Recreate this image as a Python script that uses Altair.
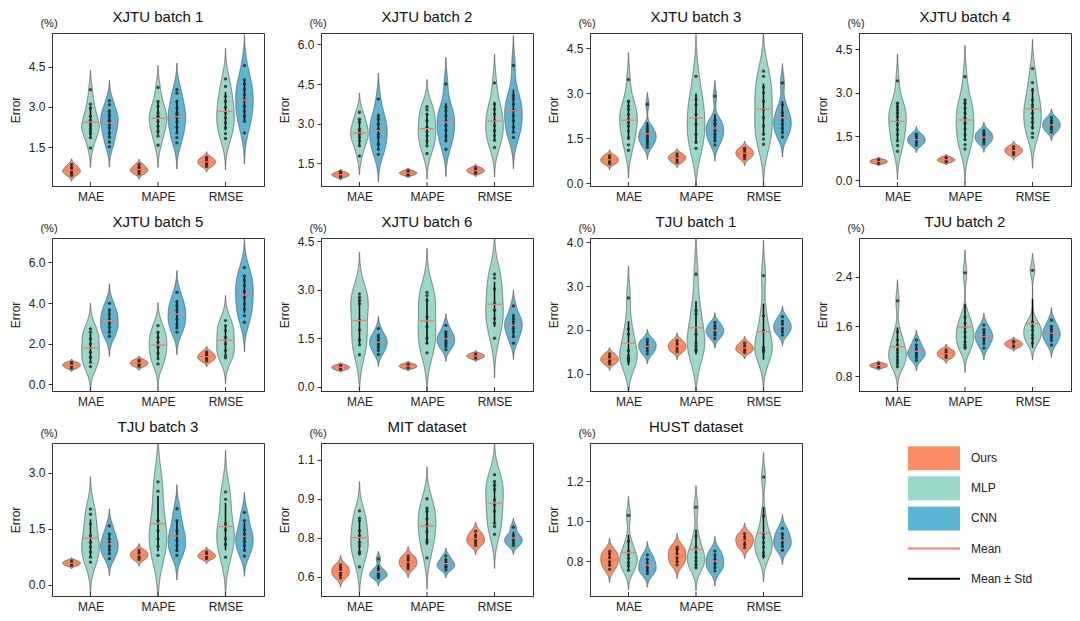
import json
import altair as alt
import pandas as pd

FONT = "Liberation Sans"
METRICS = ["MAE", "MAPE", "RMSE"]
MODELS = ["Ours", "MLP", "CNN"]
COLORS = ["#FC8D62", "#9AD9C9", "#5AB6D2"]
MEAN_COLOR = "#F47C6C"
STD_COLOR = "#000000"

PANEL_TITLES = ["XJTU batch 1", "XJTU batch 2", "XJTU batch 3", "XJTU batch 4",
                "XJTU batch 5", "XJTU batch 6", "TJU batch 1", "TJU batch 2",
                "TJU batch 3", "MIT dataset", "HUST dataset"]

XJTU1 = {
    "MAE": {"Ours": [0.45, 0.52, 0.58, 0.62, 0.68, 0.75, 0.85],
            "MLP": [1.47, 1.85, 2.0, 2.1, 2.2, 2.3, 2.4, 2.5, 2.65, 2.95, 3.1, 3.64],
            "CNN": [1.51, 1.69, 1.87, 2.03, 2.22, 2.34, 2.46, 2.5, 2.65, 2.7, 2.83, 3.08, 3.23]},
    "MAPE": {"Ours": [0.5, 0.58, 0.63, 0.68, 0.75, 0.85],
             "MLP": [1.57, 1.91, 2.09, 2.28, 2.46, 2.59, 2.65, 2.77, 3.02, 3.2, 3.72],
             "CNN": [1.66, 1.85, 2.03, 2.24, 2.44, 2.59, 2.7, 2.77, 2.96, 3.2, 3.51, 3.64]},
    "RMSE": {"Ours": [0.78, 0.84, 0.9, 0.95, 1.0, 1.06, 1.12],
             "MLP": [1.82, 2.0, 2.22, 2.4, 2.59, 2.77, 2.98, 3.2, 3.39, 3.76, 4.04],
             "CNN": [2.03, 2.46, 2.65, 2.83, 3.02, 3.27, 3.45, 3.64, 3.85, 4.01, 4.54]},
}
XJTU2 = {
    "MAE": {"Ours": [0.98, 1.02, 1.06, 1.08, 1.12, 1.17],
            "MLP": [1.78, 2.16, 2.35, 2.48, 2.6, 2.7, 2.79, 3.05, 3.17, 3.43],
            "CNN": [1.84, 2.03, 2.22, 2.48, 2.6, 2.79, 2.98, 3.17, 3.3, 3.93]},
    "MAPE": {"Ours": [1.05, 1.1, 1.13, 1.17, 1.22],
             "MLP": [1.87, 2.16, 2.35, 2.54, 2.69, 2.86, 3.11, 3.36, 3.52, 3.64],
             "CNN": [2.03, 2.35, 2.54, 2.75, 2.92, 3.11, 3.3, 3.49, 3.62, 4.5]},
    "RMSE": {"Ours": [1.12, 1.18, 1.22, 1.27, 1.33],
             "MLP": [2.1, 2.37, 2.54, 2.73, 2.92, 3.11, 3.36, 3.55, 3.74, 4.54],
             "CNN": [2.48, 2.67, 2.86, 3.11, 3.3, 3.49, 3.74, 3.93, 4.06, 5.2]},
}
XJTU3 = {
    "MAE": {"Ours": [0.65, 0.72, 0.78, 0.85, 0.92],
            "MLP": [1.1, 1.28, 1.52, 1.74, 1.91, 2.02, 2.13, 2.29, 2.46, 2.57, 2.73, 3.45],
            "CNN": [1.2, 1.3, 1.38, 1.45, 1.52, 1.58, 1.65, 1.72, 1.8, 1.9, 2.63]},
    "MAPE": {"Ours": [0.7, 0.78, 0.85, 0.9, 0.98],
             "MLP": [1.16, 1.36, 1.63, 1.96, 2.29, 2.62, 2.79, 3.56],
             "CNN": [1.28, 1.41, 1.52, 1.63, 1.74, 1.83, 1.96, 2.0, 2.1, 2.9]},
    "RMSE": {"Ours": [0.82, 0.9, 0.97, 1.03, 1.1, 1.17],
             "MLP": [1.3, 1.47, 1.63, 1.91, 2.18, 2.46, 2.73, 3.01, 3.2, 3.56, 3.73],
             "CNN": [1.54, 1.69, 1.83, 1.96, 2.09, 2.24, 2.35, 2.62, 3.34]},
}
XJTU4 = {
    "MAE": {"Ours": [0.58, 0.62, 0.66, 0.7],
            "MLP": [0.99, 1.19, 1.35, 1.56, 1.73, 1.9, 2.03, 2.18, 2.3, 2.41, 2.52, 2.64, 3.41],
            "CNN": [1.2, 1.28, 1.35, 1.42, 1.5, 1.58]},
    "MAPE": {"Ours": [0.63, 0.68, 0.72, 0.78],
             "MLP": [1.07, 1.22, 1.39, 1.56, 1.76, 1.95, 2.13, 2.3, 2.47, 2.64, 2.75, 3.55],
             "CNN": [1.25, 1.33, 1.4, 1.48, 1.55, 1.62, 1.7]},
    "RMSE": {"Ours": [0.88, 0.95, 1.02, 1.08, 1.15],
             "MLP": [1.47, 1.61, 1.81, 1.99, 2.13, 2.3, 2.47, 2.58, 2.75, 3.09, 3.35, 3.83],
             "CNN": [1.65, 1.75, 1.82, 1.9, 1.97, 2.05, 2.15]},
}
XJTU5 = {
    "MAE": {"Ours": [0.8, 0.88, 0.95, 1.0, 1.08],
            "MLP": [0.88, 1.09, 1.34, 1.58, 1.99, 2.24, 2.57, 2.73],
            "CNN": [2.37, 2.57, 2.81, 3.01, 3.22, 3.46, 3.66, 3.99]},
    "MAPE": {"Ours": [0.9, 0.98, 1.05, 1.12, 1.2],
             "MLP": [1.01, 1.26, 1.54, 1.83, 2.08, 2.32, 2.57, 2.89],
             "CNN": [2.57, 2.78, 2.97, 3.22, 3.46, 3.66, 3.87, 4.08, 4.53]},
    "RMSE": {"Ours": [1.15, 1.25, 1.32, 1.4, 1.5, 1.6],
             "MLP": [1.31, 1.42, 1.67, 1.99, 2.32, 2.65, 2.89, 3.14],
             "CNN": [3.06, 3.38, 3.71, 3.95, 4.28, 4.58, 4.85, 5.1, 5.34, 5.75]},
}
XJTU6 = {
    "MAE": {"Ours": [0.54, 0.58, 0.62, 0.66],
            "MLP": [0.99, 1.3, 1.45, 1.76, 2.06, 2.57, 2.67, 2.77, 2.87],
            "CNN": [1.0, 1.12, 1.22, 1.3, 1.38, 1.45, 1.52, 1.6, 1.8]},
    "MAPE": {"Ours": [0.58, 0.62, 0.66, 0.7],
             "MLP": [1.05, 1.35, 1.5, 1.86, 2.16, 2.67, 2.82, 2.92],
             "CNN": [1.15, 1.25, 1.33, 1.4, 1.47, 1.55, 1.62, 1.7, 1.9]},
    "RMSE": {"Ours": [0.88, 0.93, 0.97, 1.02],
             "MLP": [1.5, 1.96, 2.11, 2.37, 2.57, 3.03, 3.36, 3.48],
             "CNN": [1.35, 1.55, 1.7, 1.8, 1.9, 2.0, 2.1, 2.2, 2.5]},
}
TJU1 = {
    "MAE": {"Ours": [1.22, 1.28, 1.33, 1.38, 1.45],
            "MLP": [1.28, 1.33, 1.35, 1.4, 1.52, 1.9, 2.02, 2.73],
            "CNN": [1.45, 1.52, 1.6, 1.65, 1.72, 1.78]},
    "MAPE": {"Ours": [1.5, 1.56, 1.62, 1.68, 1.75],
             "MLP": [1.52, 1.55, 1.63, 1.7, 1.9, 2.36, 2.44, 3.27],
             "CNN": [1.8, 1.88, 1.93, 1.98, 2.03, 2.1, 2.17]},
    "RMSE": {"Ours": [1.48, 1.53, 1.58, 1.63, 1.7],
             "MLP": [1.5, 1.52, 1.55, 1.6, 1.98, 2.32, 3.24],
             "CNN": [1.88, 1.95, 2.02, 2.08, 2.13, 2.2, 2.3]},
}
TJU2 = {
    "MAE": {"Ours": [0.94, 0.96, 0.98, 1.0],
            "MLP": [0.95, 1.01, 1.06, 1.11, 1.17, 1.22, 1.3, 1.38, 1.51, 2.01],
            "CNN": [1.05, 1.1, 1.14, 1.17, 1.2, 1.24, 1.3, 1.38]},
    "MAPE": {"Ours": [1.1, 1.14, 1.18, 1.22],
             "MLP": [1.26, 1.3, 1.35, 1.43, 1.51, 1.58, 1.65, 1.75, 2.46],
             "CNN": [1.25, 1.32, 1.38, 1.42, 1.45, 1.5, 1.55, 1.62]},
    "RMSE": {"Ours": [1.27, 1.3, 1.33, 1.36],
             "MLP": [1.33, 1.41, 1.46, 1.54, 1.6, 1.67, 2.5],
             "CNN": [1.3, 1.37, 1.42, 1.47, 1.5, 1.55, 1.6, 1.7]},
}
TJU3 = {
    "MAE": {"Ours": [0.52, 0.56, 0.6, 0.64],
            "MLP": [0.61, 0.74, 0.88, 1.01, 1.14, 1.32, 1.63, 1.89, 2.03],
            "CNN": [0.7, 0.83, 0.94, 1.03, 1.12, 1.23, 1.36, 1.58]},
    "MAPE": {"Ours": [0.68, 0.74, 0.8, 0.86, 0.92],
             "MLP": [0.79, 1.03, 1.23, 1.45, 1.72, 2.51, 2.76],
             "CNN": [0.79, 0.92, 1.05, 1.19, 1.32, 1.45, 1.72, 2.04]},
    "RMSE": {"Ours": [0.7, 0.74, 0.78, 0.83, 0.88],
             "MLP": [0.74, 1.08, 1.23, 1.47, 1.63, 2.29, 2.49],
             "CNN": [0.77, 0.92, 1.05, 1.16, 1.26, 1.36, 1.48, 1.72, 1.94]},
}
MIT = {
    "MAE": {"Ours": [0.595, 0.605, 0.615, 0.625, 0.635, 0.645],
            "MLP": [0.637, 0.689, 0.696, 0.719, 0.732, 0.758, 0.776, 0.816, 0.825, 0.853],
            "CNN": [0.595, 0.6, 0.605, 0.612, 0.62, 0.63, 0.668]},
    "MAPE": {"Ours": [0.63, 0.64, 0.65, 0.66, 0.67, 0.68],
             "MLP": [0.672, 0.732, 0.741, 0.773, 0.799, 0.822, 0.851, 0.864, 0.9],
             "CNN": [0.625, 0.635, 0.64, 0.648, 0.655, 0.665, 0.68]},
    "RMSE": {"Ours": [0.72, 0.73, 0.74, 0.75, 0.76, 0.775],
             "MLP": [0.763, 0.793, 0.806, 0.851, 0.877, 0.896, 0.935, 0.952, 0.967, 0.993],
             "CNN": [0.72, 0.73, 0.74, 0.75, 0.76, 0.79]},
}
HUST = {
    "MAE": {"Ours": [0.76, 0.782, 0.798, 0.818, 0.838, 0.85],
            "MLP": [0.755, 0.777, 0.793, 0.815, 0.832, 0.851, 0.9, 1.029],
            "CNN": [0.739, 0.752, 0.768, 0.788, 0.81, 0.832]},
    "MAPE": {"Ours": [0.782, 0.798, 0.818, 0.838, 0.86, 0.871],
             "MLP": [0.768, 0.785, 0.802, 0.818, 0.843, 0.868, 0.926, 1.07],
             "CNN": [0.752, 0.768, 0.788, 0.81, 0.832, 0.851]},
    "RMSE": {"Ours": [0.868, 0.885, 0.905, 0.921, 0.938],
             "MLP": [0.827, 0.843, 0.871, 0.893, 0.918, 0.938, 1.026, 1.22],
             "CNN": [0.855, 0.876, 0.893, 0.913, 0.935, 0.964]},
}
PANEL_DATA = [XJTU1, XJTU2, XJTU3, XJTU4, XJTU5, XJTU6, TJU1, TJU2, TJU3, MIT, HUST]

Y_DOMAINS = [[0.05, 5.75], [0.64, 6.43], [-0.09, 5.0], [-0.2, 5.05], [-0.32, 7.2],
             [-0.13, 4.6], [0.6, 4.1], [0.56, 3.02], [-0.3, 3.8], [0.525, 1.115],
             [0.627, 1.39]]
Y_TICKS = [[1.5, 3.0, 4.5], [1.5, 3.0, 4.5, 6.0], [0.0, 1.5, 3.0, 4.5], [0.0, 1.5, 3.0, 4.5],
           [0.0, 2.0, 4.0, 6.0], [0.0, 1.5, 3.0, 4.5], [1.0, 2.0, 3.0, 4.0], [0.8, 1.6, 2.4],
           [0.0, 1.5, 3.0], [0.6, 0.75, 0.9, 1.05], [0.8, 1.0, 1.2]]

LEGEND_BOXES = ["Ours", "MLP", "CNN"]
LEGEND_LINES = ["Mean", "Mean \u00b1 Std"]

W, H = 212, 153
X_DOMAIN = [-0.57, 2.57]
OFFSET = 0.28
HALF = 0.13
MEAN_HALF = 0.105
LABEL_EXPR = json.dumps(METRICS) + "[datum.value]"


def make_panel(title, data, domain, ticks):
    rows = [dict(metric=m, model=k, mi=i, ki=j, value=v)
            for i, m in enumerate(METRICS)
            for j, k in enumerate(MODELS)
            for v in data[m][k]]
    df = pd.DataFrame(rows)
    base = alt.Chart(df)
    center = f"datum.mi + (datum.ki - 1) * {OFFSET}"
    xs = alt.Scale(domain=X_DOMAIN, nice=False, zero=False)
    ys = alt.Scale(domain=domain, nice=False, zero=False)
    xa = alt.Axis(values=[0, 1, 2], labelExpr=LABEL_EXPR, tickSize=0, title=None,
                  labelPadding=5, grid=False)
    ya = alt.Axis(values=ticks, format=".1f", title="Error", tickSize=4, grid=False,
                  titlePadding=6, labelPadding=3)

    def X(f):
        return alt.X(f"{f}:Q", scale=xs, axis=xa)

    def Y(f):
        return alt.Y(f"{f}:Q", scale=ys, axis=ya)

    color = alt.Color("model:N", scale=alt.Scale(domain=MODELS, range=COLORS), legend=None)

    violin = base.transform_density(
        "value", as_=["value", "density"], groupby=["mi", "ki", "model"],
        extent=domain, steps=450
    ).transform_joinaggregate(
        maxd="max(density)", groupby=["mi", "ki"]
    ).transform_calculate(
        rel="datum.density / datum.maxd"
    ).transform_calculate(
        c=center
    ).transform_filter(
        "datum.rel > 0.011"
    ).transform_calculate(
        xl=f"datum.c - {HALF} * datum.rel"
    ).transform_calculate(
        xr=f"datum.c + {HALF} * datum.rel"
    ).mark_area(orient="horizontal", stroke="#5a5a5a", strokeWidth=0.8, clip=True).encode(
        y=Y("value"), x=X("xl"), x2="xr:Q", color=color, detail="mi:N"
    )

    stats = base.transform_aggregate(
        mean="mean(value)", sd="stdev(value)", groupby=["mi", "ki"]
    ).transform_calculate(c=center).transform_calculate(
        lo="datum.mean - datum.sd"
    ).transform_calculate(
        hi="datum.mean + datum.sd"
    ).transform_calculate(
        ml=f"datum.c - {MEAN_HALF}"
    ).transform_calculate(
        mr=f"datum.c + {MEAN_HALF}"
    )
    std_rule = stats.mark_rule(color=STD_COLOR, strokeWidth=1.5).encode(
        x=X("c"), y=Y("lo"), y2="hi:Q")
    mean_rule = stats.mark_rule(color=MEAN_COLOR, strokeWidth=1.3).encode(
        x=X("ml"), x2="mr:Q", y=Y("mean"))
    points = base.transform_calculate(c=center).mark_circle(
        size=11, color="#2a2a2a", opacity=0.85).encode(x=X("c"), y=Y("value"))

    tick_df = pd.DataFrame({"mi": list(range(len(METRICS)))})
    ticks_in = alt.Chart(tick_df).mark_rule(color="#333333", strokeWidth=1).encode(
        x=X("mi"), y=alt.value(H), y2=alt.value(H - 4))
    pct = alt.Chart(pd.DataFrame({"t": ["(%)"]})).mark_text(
        fontSize=11, align="center", baseline="middle", color="#222222").encode(
        text="t:N", x=alt.value(-3), y=alt.value(-9))

    return alt.layer(violin, std_rule, points, mean_rule, ticks_in, pct).properties(
        width=W, height=H, title=alt.Title(title, offset=-7))


panels = [make_panel(t, d, dom, tk)
          for t, d, dom, tk in zip(PANEL_TITLES, PANEL_DATA, Y_DOMAINS, Y_TICKS)]

# legend panel
ly = alt.Scale(domain=[-0.508, 4.577], reverse=True, nice=False, zero=False)
box_df = pd.DataFrame({"label": LEGEND_BOXES, "i": list(range(len(LEGEND_BOXES)))})
line_df = pd.DataFrame({"label": LEGEND_LINES,
                        "i": [len(LEGEND_BOXES) + k for k in range(len(LEGEND_LINES))]})
leg_boxes = alt.Chart(box_df).transform_calculate(y1="datum.i - 0.4").transform_calculate(
    y2="datum.i + 0.4").mark_rect().encode(
    x=alt.value(49), x2=alt.value(101),
    y=alt.Y("y1:Q", scale=ly, axis=None), y2="y2:Q",
    color=alt.Color("label:N", scale=alt.Scale(domain=MODELS, range=COLORS), legend=None))
leg_mean = alt.Chart(line_df).transform_filter(f"datum.i == {len(LEGEND_BOXES)}").mark_rule(
    strokeWidth=2, color=MEAN_COLOR).encode(
    x=alt.value(49), x2=alt.value(101), y=alt.Y("i:Q", scale=ly, axis=None))
leg_std = alt.Chart(line_df).transform_filter(f"datum.i == {len(LEGEND_BOXES) + 1}").mark_rule(
    strokeWidth=2, color=STD_COLOR).encode(
    x=alt.value(49), x2=alt.value(101), y=alt.Y("i:Q", scale=ly, axis=None))
leg_text_b = alt.Chart(box_df).mark_text(align="left", baseline="middle", fontSize=12,
                                         color="#222222").encode(
    x=alt.value(112), y=alt.Y("i:Q", scale=ly, axis=None), text="label:N")
leg_text_l = alt.Chart(line_df).mark_text(align="left", baseline="middle", fontSize=12,
                                          color="#222222").encode(
    x=alt.value(112), y=alt.Y("i:Q", scale=ly, axis=None), text="label:N")
legend = alt.layer(leg_boxes, leg_mean, leg_std, leg_text_b, leg_text_l).properties(
    width=W, height=H, view=alt.ViewConfig(stroke="transparent"))

chart = alt.concat(*panels, legend, columns=4, spacing={"row": 11, "column": 12}).properties(
    padding={"left": 0, "top": 1, "right": 0, "bottom": 0}
).configure(font=FONT).configure_view(
    stroke="#333333", strokeWidth=1
).configure_axis(
    domainColor="#333333", tickColor="#333333", labelColor="#222222",
    titleColor="#222222", labelFontSize=12, titleFontSize=12,
    titleFontWeight="normal", labelFont=FONT, titleFont=FONT, grid=False
).configure_title(
    fontSize=15, fontWeight="normal", font=FONT, color="#111111", anchor="middle"
)

chart.save("out.html", embed_options={"renderer": "svg", "actions": False})
